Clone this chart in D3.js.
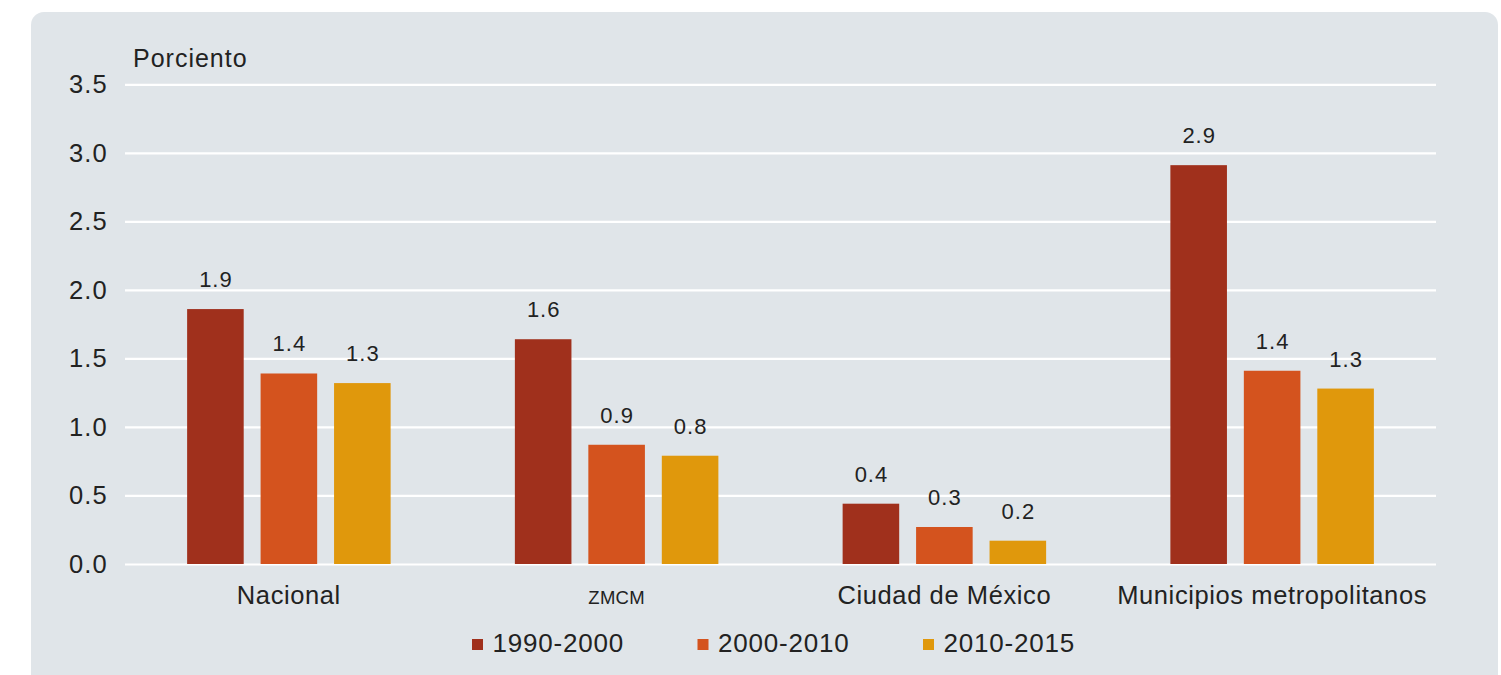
<!DOCTYPE html>
<html>
<head>
<meta charset="utf-8">
<script src="https://cdn.jsdelivr.net/npm/d3@7"></script>
<style>
  html, body { margin: 0; padding: 0; background: #fff; }
  svg { display: block; font-family: "Liberation Sans", Arial, sans-serif; }
</style>
</head>
<body>
<svg id="chart" width="1501" height="675"></svg>
<script>
(() => {
  /* ---------- DATA ---------- */
  const categories = ["Nacional", "ZMCM", "Ciudad de México", "Municipios metropolitanos"];
  const periods = ["1990-2000", "2000-2010", "2010-2015"];
  const values1990 = [1.86, 1.64, 0.44, 2.91];
  const values2000 = [1.39, 0.87, 0.27, 1.41];
  const values2010 = [1.32, 0.79, 0.17, 1.28];
  const yTicks = [0, 0.5, 1.0, 1.5, 2.0, 2.5, 3.0, 3.5];
  const yLabel = "Porciento";

  const COLORS = ["#a0301c", "#d4531e", "#e0980c"];

  const seriesValues = [values1990, values2000, values2010];
  const data = categories.map((cat, i) => ({
    cat,
    vals: periods.map((p, j) => ({ period: p, value: seriesValues[j][i] }))
  }));

  const svg = d3.select("#chart");

  // background panel
  svg.append("rect")
    .attr("x", 31)
    .attr("y", 12)
    .attr("width", 1467)
    .attr("height", 720)
    .attr("rx", 13)
    .attr("fill", "#e0e5e9");

  const x0 = d3.scaleBand()
    .domain(categories)
    .range([125, 1436])
    .padding(0);

  const x1 = d3.scaleBand()
    .domain(periods)
    .range([-101.75, 101.75])
    .paddingInner(0.23);

  const y = d3.scaleLinear()
    .domain([0, 3.5])
    .range([564, 84.3]);

  const color = d3.scaleOrdinal().domain(periods).range(COLORS);

  /* ---------- GRID + Y AXIS ---------- */
  svg.append("g")
    .attr("transform", "translate(125,0)")
    .call(
      d3.axisLeft(y)
        .tickValues(yTicks)
        .tickSize(-(1436 - 125))
        .tickPadding(17)
        .tickFormat(d3.format(".1f"))
    )
    .call(g => g.select(".domain").remove())
    .call(g => g.selectAll("line")
      .attr("stroke", "#fff")
      .attr("stroke-width", 2.2))
    .call(g => g.selectAll("text")
      .attr("fill", "#222")
      .style("font-size", "25.5px")
      .style("letter-spacing", "1.2px")
      .attr("font-family", "Liberation Sans, Arial, sans-serif"));

  svg.append("text")
    .attr("x", 133)
    .attr("y", 66.5)
    .attr("fill", "#222")
    .style("font-size", "25px")
    .style("letter-spacing", "1px")
    .text(yLabel);

  /* ---------- BARS ---------- */
  const groups = svg.selectAll("g.group")
    .data(data)
    .join("g")
    .attr("class", "group")
    .attr("transform", d => `translate(${x0(d.cat) + x0.bandwidth() / 2},0)`);

  groups.selectAll("rect")
    .data(d => d.vals)
    .join("rect")
    .attr("x", d => x1(d.period))
    .attr("width", x1.bandwidth())
    .attr("y", d => y(d.value))
    .attr("height", d => y(0) - y(d.value))
    .attr("fill", d => color(d.period));

  groups.selectAll("text.val")
    .data(d => d.vals)
    .join("text")
    .attr("class", "val")
    .attr("x", d => x1(d.period) + x1.bandwidth() / 2 + 0.5)
    .attr("y", d => y(d.value) - 22)
    .attr("text-anchor", "middle")
    .attr("fill", "#222")
    .style("font-size", "22px")
    .style("letter-spacing", "1px")
    .text(d => d3.format(".1f")(d.value));

  /* ---------- CATEGORY LABELS ---------- */
  svg.append("g")
    .selectAll("text")
    .data(categories)
    .join("text")
    .attr("x", d => x0(d) + x0.bandwidth() / 2)
    .attr("y", 603.5)
    .attr("text-anchor", "middle")
    .attr("fill", "#222")
    .style("font-size", d => d === "ZMCM" ? "18.5px" : "25.5px")
    .style("letter-spacing", d => d === "ZMCM" ? "0.3px" : "0.6px")
    .text(d => d);

  /* ---------- LEGEND ---------- */
  const legend = svg.append("g")
    .selectAll("g")
    .data(periods)
    .join("g")
    .attr("transform", (d, i) => `translate(${472 + i * 225.5},0)`);

  legend.append("rect")
    .attr("x", 0)
    .attr("y", 639)
    .attr("width", 11)
    .attr("height", 11)
    .attr("fill", d => color(d));

  legend.append("text")
    .attr("x", 20.5)
    .attr("y", 652.3)
    .attr("fill", "#222")
    .style("font-size", "26px")
    .style("letter-spacing", "0.8px")
    .text(d => d);
})();
</script>
</body>
</html>
